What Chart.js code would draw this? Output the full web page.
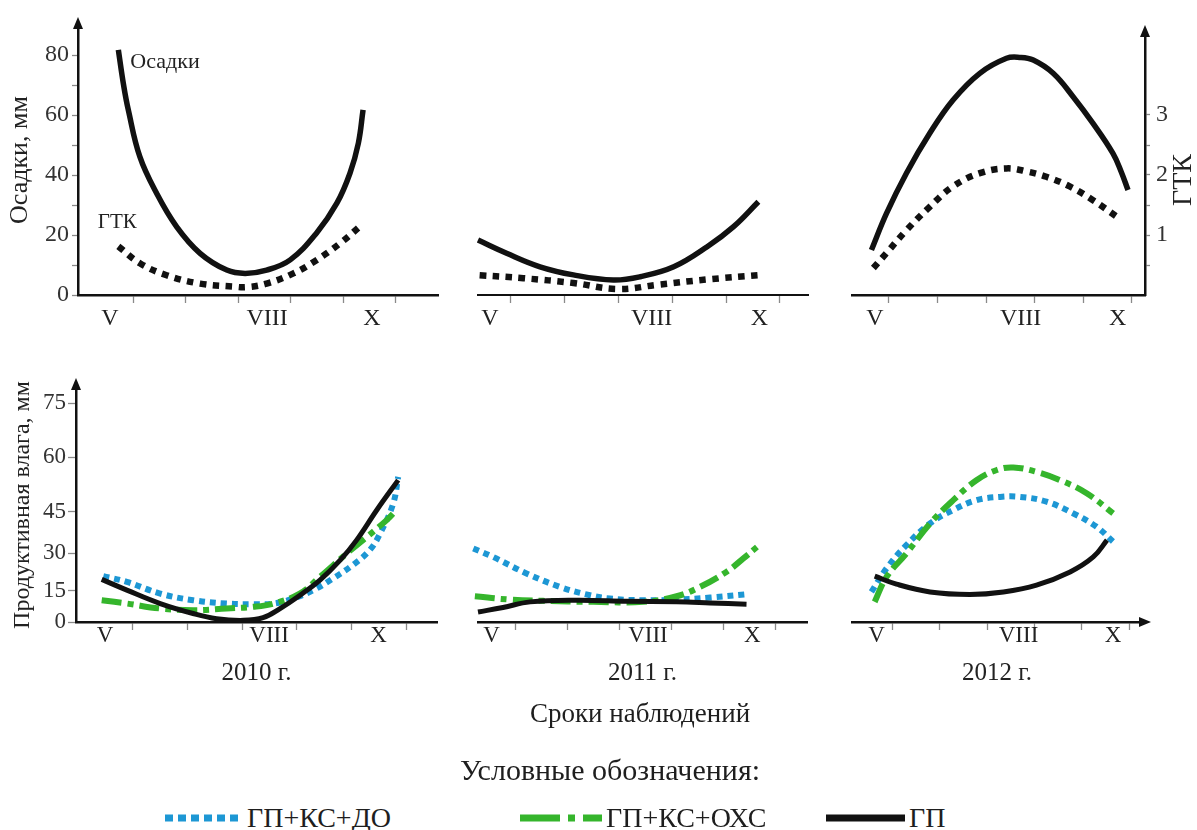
<!DOCTYPE html>
<html lang="ru">
<head>
<meta charset="utf-8">
<title>Осадки, ГТК и продуктивная влага, 2010–2012 гг.</title>
<script src="https://cdn.jsdelivr.net/npm/chart.js@4.4.1/dist/chart.umd.min.js"></script>
<style>
  html, body { margin: 0; padding: 0; background: #fff; overflow: hidden; }
  #page { position: relative; width: 1197px; height: 830px; font-family: "Liberation Serif", "Times New Roman", serif; color: #1e1e1e; }
  #page canvas { position: absolute; }
  .caption { position: absolute; white-space: nowrap; transform: translate(-50%, -50%); }
  .legend-item { position: absolute; top: 818px; transform: translateY(-50%); display: flex; align-items: center; white-space: nowrap; font-size: 28px; }
  .legend-item svg { display: block; margin-right: 4px; }
</style>
</head>
<body>
<div id="page">
  <canvas id="rain2010" width="450" height="345" style="left:0;top:0"></canvas>
  <canvas id="rain2011" width="380" height="345" style="left:450px;top:0"></canvas>
  <canvas id="rain2012" width="367" height="345" style="left:830px;top:0"></canvas>
  <canvas id="moist2010" width="450" height="340" style="left:0;top:360px"></canvas>
  <canvas id="moist2011" width="380" height="340" style="left:450px;top:360px"></canvas>
  <canvas id="moist2012" width="367" height="340" style="left:830px;top:360px"></canvas>
  <div class="caption" style="left:640px;top:713px;font-size:27px">Сроки наблюдений</div>
  <div class="caption" style="left:610px;top:770px;font-size:30px">Условные обозначения:</div>
  <div id="legend"></div>
</div>
<script>
// ---- axis ticks -------------------------------------------------------
const monthTicks = [5, 8, 10];                 // May, August, October
const monthTickLabels = ['V', 'VIII', 'X'];
const rainTicks = [0, 10, 20, 30, 40, 50, 60, 70, 80];
const htcTicks = [0.5, 1, 1.5, 2, 2.5, 3];
const moistureTicks = [0, 15, 30, 45, 60, 75];

// ---- precipitation (mm) and hydrothermal coefficient, [month, value] ----
const rain2010 = [[5.16, 81.7], [5.26, 70.0], [5.35, 61.7], [5.57, 46.1], [5.89, 33.9], [6.27, 22.8], [6.72, 13.9], [7.23, 8.3], [7.58, 7.2], [7.99, 8.3], [8.44, 11.7], [8.94, 20.6], [9.33, 30.6], [9.58, 40.6], [9.74, 50.6], [9.83, 61.7]];
const htc2010 = [[5.16, 0.81], [5.57, 0.53], [6.08, 0.33], [6.72, 0.19], [7.35, 0.14], [7.61, 0.13], [7.99, 0.19], [8.50, 0.36], [8.94, 0.58], [9.39, 0.86], [9.83, 1.19]];
const rain2011 = [[4.78, 18.3], [5.31, 13.9], [5.93, 9.4], [6.55, 6.7], [7.29, 5.0], [7.79, 6.1], [8.41, 9.4], [9.03, 16.1], [9.52, 22.8], [9.98, 31.1]];
const htc2011 = [[4.81, 0.33], [5.62, 0.28], [6.55, 0.20], [7.36, 0.10], [8.11, 0.17], [9.04, 0.26], [9.99, 0.33]];
const rain2012 = [[4.93, 15.0], [5.24, 27.2], [5.65, 40.6], [6.13, 53.9], [6.61, 65.0], [7.16, 73.9], [7.71, 78.9], [7.98, 79.2], [8.26, 78.3], [8.67, 73.9], [9.08, 66.1], [9.49, 57.2], [9.90, 47.2], [10.07, 41.1], [10.21, 35.0]];
const htc2012 = [[4.97, 0.45], [5.24, 0.70], [5.65, 1.08], [6.13, 1.47], [6.61, 1.81], [7.16, 2.03], [7.71, 2.11], [8.12, 2.06], [8.53, 1.97], [9.01, 1.81], [9.49, 1.58], [9.97, 1.31]];

// ---- productive soil moisture (mm), [month, value] ----------------------
const moist2010Do  = [[4.97, 20.9], [5.40, 18.6], [6.01, 13.7], [6.61, 10.5], [7.22, 8.9], [7.71, 8.6], [8.08, 8.9], [8.44, 11.3], [8.81, 15.3], [9.17, 20.0], [9.54, 25.5], [9.84, 31.2], [10.03, 37.2], [10.27, 47.3], [10.36, 54.6]];
const moist2010Oxc = [[4.94, 10.5], [5.40, 8.9], [6.01, 6.5], [6.61, 5.7], [7.22, 6.5], [7.71, 7.3], [8.08, 8.9], [8.56, 13.7], [8.93, 20.6], [9.42, 30.0], [9.79, 36.0], [10.15, 42.0], [10.33, 45.5]];
const moist2010Gp  = [[4.94, 19.6], [5.40, 15.3], [6.01, 8.9], [6.61, 4.1], [7.04, 1.6], [7.53, 0.8], [7.89, 2.1], [8.20, 6.5], [8.56, 12.8], [8.93, 19.3], [9.30, 27.3], [9.60, 34.8], [9.97, 45.5], [10.36, 53.7]];
const moist2011Do  = [[4.65, 31.8], [5.03, 28.6], [5.67, 22.0], [6.31, 16.6], [6.82, 13.3], [7.27, 11.3], [7.91, 10.5], [8.55, 10.8], [9.19, 11.8], [9.86, 13.3]];
const moist2011Oxc = [[4.68, 12.4], [5.35, 10.8], [5.99, 10.2], [6.95, 9.7], [7.91, 9.7], [8.55, 12.4], [9.00, 16.6], [9.51, 22.7], [9.83, 28.0], [10.09, 32.3]];
const moist2011Gp  = [[4.74, 4.8], [5.22, 7.0], [5.74, 9.7], [6.63, 10.5], [7.59, 10.0], [8.55, 9.7], [9.19, 9.2], [9.89, 8.6]];
const moist2012Do  = [[4.89, 14.5], [5.21, 24.0], [5.63, 33.0], [6.13, 40.8], [6.62, 45.5], [7.11, 48.2], [7.61, 49.1], [8.03, 49.1], [8.59, 47.8], [9.16, 44.4], [9.65, 39.6], [10.0, 34.2]];
const moist2012Oxc = [[4.96, 9.7], [5.21, 20.6], [5.63, 30.0], [6.13, 40.8], [6.62, 48.2], [7.11, 53.7], [7.54, 56.5], [7.89, 57.2], [8.38, 56.0], [8.88, 53.7], [9.44, 50.1], [10.0, 44.4]];
const moist2012Gp  = [[4.96, 20.9], [5.42, 17.7], [6.13, 14.5], [6.97, 13.3], [7.68, 14.5], [8.38, 17.3], [9.09, 22.6], [9.58, 28.6], [9.87, 34.8]];

const seriesNames = ['ГП+КС+ДО', 'ГП+КС+ОХС', 'ГП'];

// ---- line styles ------------------------------------------------------
const STYLE = {
  rain: { borderColor: '#111', borderWidth: 5.5 },
  htc:  { borderColor: '#111', borderWidth: 6.5, borderDash: [6.5, 6.5] },
  do:   { borderColor: '#1d97d4', borderWidth: 6, borderDash: [6, 5] },
  oxc:  { borderColor: '#35b52c', borderWidth: 6, borderDash: [20, 6, 6, 6] },
  gp:   { borderColor: '#111', borderWidth: 5 }
};
const LEGEND_DASH = { do: '8 5', oxc: '40 8 7 8', gp: '' };

Chart.defaults.font.family = '"Liberation Serif", "Times New Roman", serif';
Chart.defaults.color = '#222';

// Moisture axis of the figure is drawn with uneven spacing between its
// labelled values; this scale maps values piecewise-linearly between knots
// given as [value, fraction of axis height].
class KnottedScale extends Chart.LinearScale {
  static id = 'knotted';
  _knots() { return this.options.knots || [[this.min, 0], [this.max, 1]]; }
  _toFraction(v) {
    const k = this._knots();
    let i = 1;
    while (i < k.length - 1 && v > k[i][0]) i++;
    const [v0, f0] = k[i - 1], [v1, f1] = k[i];
    return f0 + (v - v0) * (f1 - f0) / (v1 - v0);
  }
  _fromFraction(f) {
    const k = this._knots();
    let i = 1;
    while (i < k.length - 1 && f > k[i][1]) i++;
    const [v0, f0] = k[i - 1], [v1, f1] = k[i];
    return v0 + (f - f0) * (v1 - v0) / (f1 - f0);
  }
  getPixelForValue(value) {
    if (value === null || value === undefined || isNaN(value)) return NaN;
    return this.getPixelForDecimal(this._toFraction(value));
  }
  getValueForPixel(pixel) {
    return this._fromFraction(this.getDecimalForPixel(pixel));
  }
}
Chart.register(KnottedScale);
const moistureAxisKnots = [[0, 0], [15, 0.133], [30, 0.293], [45, 0.471], [60, 0.704], [75, 0.935], [80, 1]];

// ---- helpers ----------------------------------------------------------
function series(points, style, label, yAxisID, order) {
  return Object.assign({
    label, yAxisID, order,
    data: points.map(([x, y]) => ({ x, y })),
    pointRadius: 0, fill: false, clip: false,
    tension: 0.4,
    borderCapStyle: 'butt', borderJoinStyle: 'round'
  }, style);
}

function monthScale(p) {
  const minor = [5, 6, 7, 8, 9, 10].map(m => +(m + p.tickShift).toFixed(3));
  const values = [...monthTicks, ...minor].sort((a, b) => a - b);
  return {
    type: 'linear', position: 'bottom', min: p.xMin, max: p.xMax,
    afterBuildTicks: s => { s.ticks = values.map(v => ({ value: v })); },
    afterFit: s => { s.height = p.xHeight; },
    border: { display: true, color: '#111', width: p.axisWidth },
    grid: {
      display: true, drawOnChartArea: false, drawTicks: true, tickLength: 8, tickWidth: 1.3,
      tickColor: c => (c.tick && monthTicks.includes(c.tick.value)) ? 'rgba(0,0,0,0)' : '#8a8a8a'
    },
    ticks: {
      autoSkip: false, maxRotation: 0, minRotation: 0, padding: p.labelPad, color: '#222',
      font: { size: p.labelSize },
      callback: v => { const i = monthTicks.indexOf(v); return i >= 0 ? monthTickLabels[i] : ''; }
    },
    title: p.year
      ? { display: true, text: p.year, color: '#222', font: { size: 25 }, padding: { top: 0, bottom: 12 } }
      : { display: false }
  };
}

function rainScale(show, max) {
  return {
    type: 'linear', position: 'left', display: show, min: 0, max,
    afterBuildTicks: s => { s.ticks = rainTicks.map(v => ({ value: v })); },
    afterFit: s => { if (show) s.width = 78; },
    border: { color: '#111', width: 2.5 },
    grid: { drawOnChartArea: false, tickLength: 6, tickWidth: 1.3, tickColor: '#8a8a8a' },
    ticks: { padding: 3, color: '#333', font: { size: 24 }, callback: v => (v % 20 === 0 ? String(v) : '') },
    title: { display: true, text: 'Осадки, мм', color: '#222', font: { size: 26 }, padding: { top: 5, bottom: 0 } }
  };
}

function htcScale(show, max) {
  return {
    type: 'linear', position: 'right', display: show, min: 0, max,
    afterBuildTicks: s => { s.ticks = htcTicks.map(v => ({ value: v })); },
    afterFit: s => { if (show) s.width = 52; },
    border: { color: '#111', width: 2.5 },
    grid: { drawOnChartArea: false, tickLength: 5, tickWidth: 1.3, tickColor: '#8a8a8a' },
    ticks: { padding: 6, color: '#333', font: { size: 24 }, callback: v => (Number.isInteger(v) ? String(v) : '') }
  };
}

function moistureScale(show) {
  return {
    type: 'knotted', position: 'left', display: show, min: 0, max: 80, knots: moistureAxisKnots,
    afterBuildTicks: s => { s.ticks = moistureTicks.map(v => ({ value: v })); },
    afterFit: s => { if (show) s.width = 76; },
    border: { color: '#111', width: 2.5 },
    grid: { drawOnChartArea: false, tickLength: 8, tickWidth: 1.3, tickColor: '#8a8a8a' },
    ticks: { padding: 2, color: '#333', font: { size: 23 } },
    title: { display: true, text: 'Продуктивная влага, мм', color: '#222', font: { size: 24 }, padding: { top: 8, bottom: 0 } }
  };
}

// arrow heads at the ends of axes
function arrowsPlugin(items) {
  return {
    id: 'axisArrows',
    afterDraw(chart) {
      const { ctx, chartArea: a } = chart;
      ctx.save();
      ctx.fillStyle = '#111'; ctx.strokeStyle = '#111'; ctx.lineWidth = 2.5;
      items.forEach(it => {
        ctx.beginPath();
        if (it.side === 'left' || it.side === 'right') {
          const x = it.side === 'left' ? a.left : a.right;
          const tip = a.top - it.len;
          ctx.moveTo(x, a.top + 1); ctx.lineTo(x, tip + 6); ctx.stroke();
          ctx.beginPath();
          ctx.moveTo(x, tip); ctx.lineTo(x - 5, tip + 12); ctx.lineTo(x + 5, tip + 12);
          ctx.closePath(); ctx.fill();
        } else {
          const y = a.bottom, tip = a.right + it.len;
          ctx.moveTo(a.right - 1, y); ctx.lineTo(tip - 6, y); ctx.stroke();
          ctx.beginPath();
          ctx.moveTo(tip, y); ctx.lineTo(tip - 12, y - 5); ctx.lineTo(tip - 12, y + 5);
          ctx.closePath(); ctx.fill();
        }
      });
      ctx.restore();
    }
  };
}

// text labels attached to the first point of a curve
function notesPlugin(notes) {
  return {
    id: 'curveNotes',
    afterDatasetsDraw(chart) {
      const { ctx } = chart;
      notes.forEach(n => {
        const p = chart.getDatasetMeta(n.dataset).data[0];
        ctx.save();
        ctx.font = n.size + 'px "Liberation Serif", serif';
        ctx.fillStyle = '#222';
        ctx.textAlign = n.align; ctx.textBaseline = 'middle';
        ctx.fillText(n.text, p.x + n.dx, p.y + n.dy);
        ctx.restore();
      });
    }
  };
}

// title of the right-hand axis, read bottom to top
function sideTitlePlugin(scaleId, text, size) {
  return {
    id: 'sideTitle',
    afterDraw(chart) {
      const s = chart.scales[scaleId];
      const { ctx, chartArea: a } = chart;
      ctx.save();
      ctx.font = size + 'px "Liberation Serif", serif';
      ctx.fillStyle = '#222';
      ctx.textAlign = 'center'; ctx.textBaseline = 'middle';
      ctx.translate(s.right - 13, (a.top + a.bottom) / 2 + 16);
      ctx.rotate(-Math.PI / 2);
      ctx.fillText(text, 0, 0);
      ctx.restore();
    }
  };
}

function makePanel(id, datasets, scales, padding, plugins) {
  return new Chart(document.getElementById(id), {
    type: 'line',
    data: { datasets },
    options: {
      responsive: false, animation: false, events: [],
      layout: { padding },
      scales,
      plugins: { legend: { display: false }, tooltip: { enabled: false } }
    },
    plugins
  });
}

// ---- top row: precipitation and HTC ------------------------------------
const rainPanels = [
  { id: 'rain2010', rain: rain2010, htc: htc2010, showRain: true, showHtc: false, top: 25,
    x: { xMin: 4.39, xMax: 11.26, tickShift: 0.45, axisWidth: 2.5 }, pad: { left: 0, right: 12, top: 25, bottom: 0 },
    plugins: [arrowsPlugin([{ side: 'left', len: 8 }]),
              notesPlugin([{ dataset: 0, text: 'Осадки', dx: 12, dy: 12, align: 'left', size: 22 },
                           { dataset: 1, text: 'ГТК', dx: -1, dy: -24, align: 'center', size: 21 }])] },
  { id: 'rain2011', rain: rain2011, htc: htc2011, showRain: false, showHtc: false, top: 25,
    x: { xMin: 4.78, xMax: 10.9, tickShift: 0.38, axisWidth: 2 }, pad: { left: 28, right: 22, top: 25, bottom: 0 },
    plugins: [] },
  { id: 'rain2012', rain: rain2012, htc: htc2012, showRain: false, showHtc: true, top: 33,
    x: { xMin: 4.53, xMax: 10.56, tickShift: 0.29, axisWidth: 2.5 }, pad: { left: 22, right: 0, top: 33, bottom: 0 },
    plugins: [arrowsPlugin([{ side: 'right', len: 8 }]), sideTitlePlugin('yHtc', 'ГТК', 28)] }
];
rainPanels.forEach(p => {
  const rainMax = (295 - p.top) / 3;
  makePanel(p.id,
    [series(p.rain, STYLE.rain, 'Осадки', 'yRain', 0), series(p.htc, STYLE.htc, 'ГТК', 'yHtc', 1)],
    {
      x: monthScale(Object.assign({ xHeight: 50, labelPad: 1, labelSize: 24 }, p.x)),
      yRain: rainScale(p.showRain, rainMax),
      yHtc: htcScale(p.showHtc, rainMax / 20)
    },
    p.pad, p.plugins);
});

// ---- bottom row: productive moisture ----------------------------------
const moisturePanels = [
  { id: 'moist2010', year: '2010 г.', data: [moist2010Do, moist2010Oxc, moist2010Gp], showY: true,
    x: { xMin: 4.47, xMax: 11.07, tickShift: 0.51, axisWidth: 2.5 }, pad: { left: 0, right: 13, top: 28, bottom: 0 },
    plugins: [arrowsPlugin([{ side: 'left', len: 10 }])] },
  { id: 'moist2011', year: '2011 г.', data: [moist2011Do, moist2011Oxc, moist2011Gp], showY: false,
    x: { xMin: 4.74, xMax: 11.05, tickShift: 0.45, axisWidth: 2.5 }, pad: { left: 28, right: 23, top: 28, bottom: 0 },
    plugins: [] },
  { id: 'moist2012', year: '2012 г.', data: [moist2012Do, moist2012Oxc, moist2012Gp], showY: false,
    x: { xMin: 4.48, xMax: 10.61, tickShift: 0.34, axisWidth: 2.5 }, pad: { left: 22, right: 55, top: 28, bottom: 0 },
    plugins: [arrowsPlugin([{ side: 'bottom', len: 9 }])] }
];
moisturePanels.forEach(p => {
  makePanel(p.id,
    [series(p.data[0], STYLE.do, seriesNames[0], 'y', 2),
     series(p.data[1], STYLE.oxc, seriesNames[1], 'y', 1),
     series(p.data[2], STYLE.gp, seriesNames[2], 'y', 0)],
    {
      x: monthScale(Object.assign({ xHeight: 78, labelPad: -8, labelSize: 23, year: p.year }, p.x)),
      y: moistureScale(p.showY)
    },
    p.pad, p.plugins);
});

// ---- legend -----------------------------------------------------------
const legendItems = [
  { key: 'do', name: seriesNames[0], left: 165, width: 78 },
  { key: 'oxc', name: seriesNames[1], left: 520, width: 82 },
  { key: 'gp', name: seriesNames[2], left: 826, width: 79 }
];
const legend = document.getElementById('legend');
legendItems.forEach(it => {
  const st = STYLE[it.key];
  const item = document.createElement('div');
  item.className = 'legend-item';
  item.style.left = it.left + 'px';
  item.innerHTML =
    '<svg width="' + it.width + '" height="10"><line x1="0" y1="5" x2="' + it.width + '" y2="5" stroke="' +
    st.borderColor + '" stroke-width="7" stroke-dasharray="' + LEGEND_DASH[it.key] + '"/></svg><span>' + it.name + '</span>';
  legend.appendChild(item);
});
</script>
</body>
</html>
